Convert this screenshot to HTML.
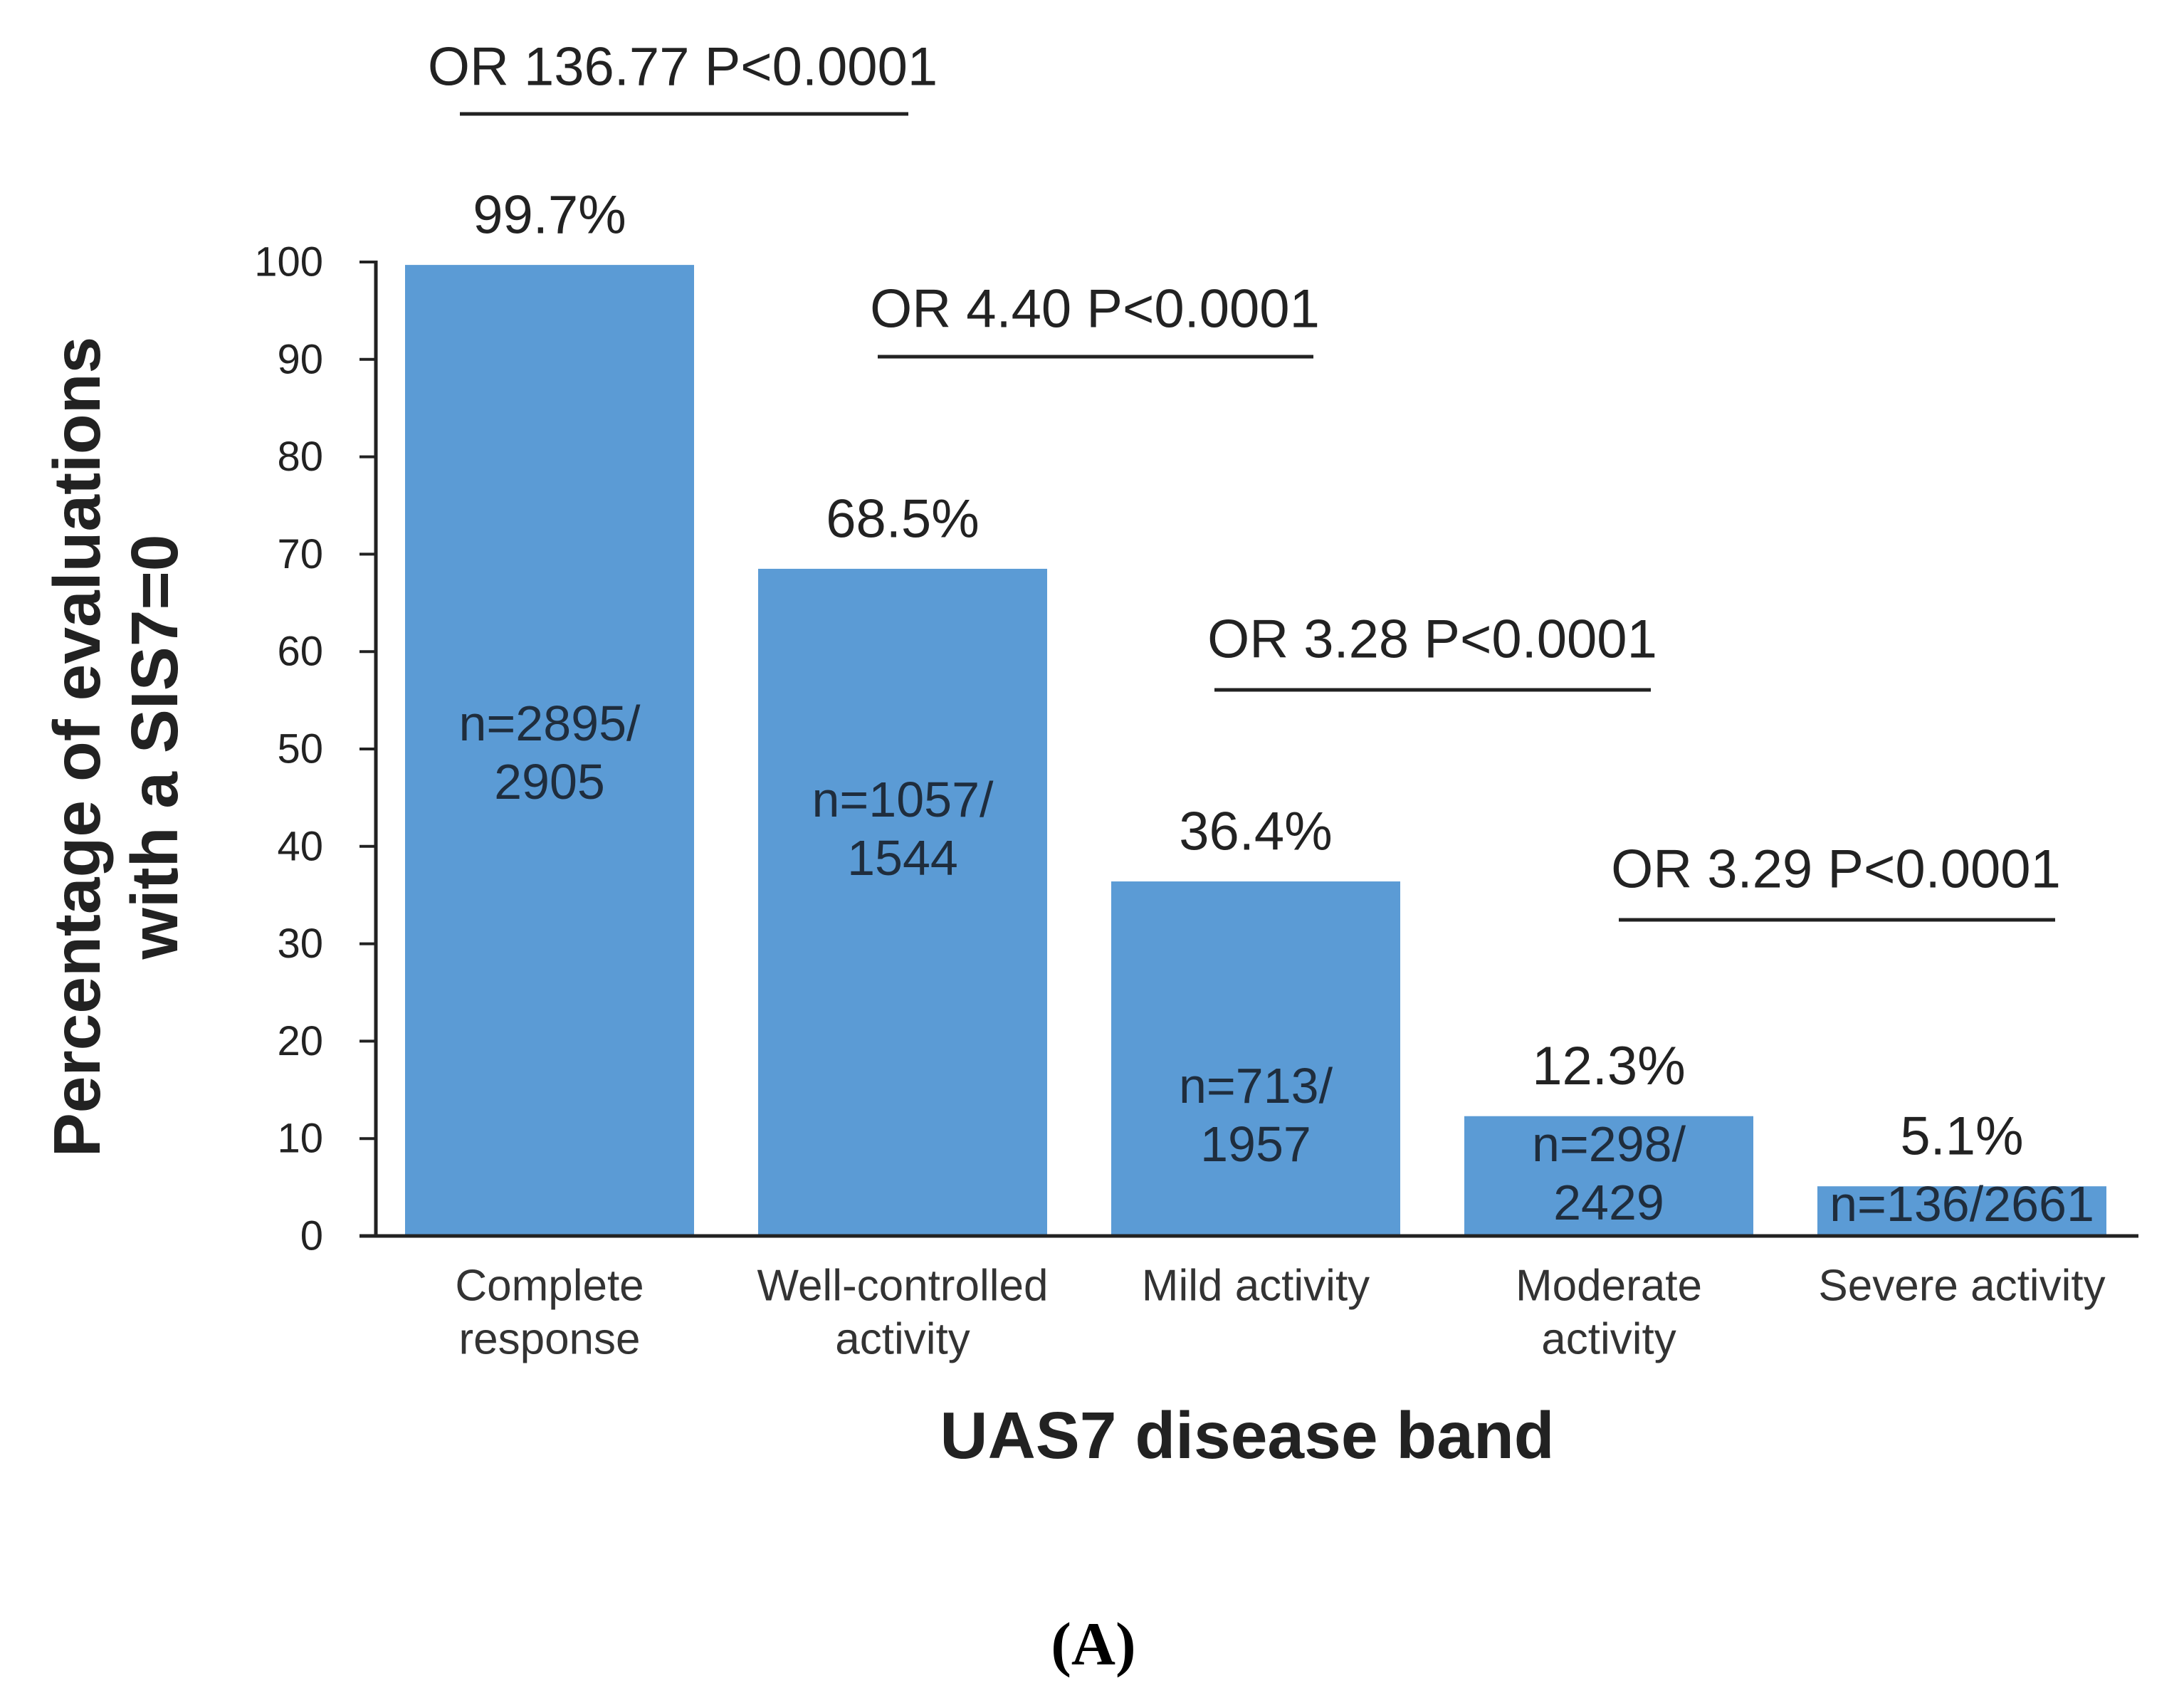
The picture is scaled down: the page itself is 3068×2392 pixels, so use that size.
<!DOCTYPE html>
<html><head><meta charset="utf-8"><style>
html,body{margin:0;padding:0;background:#fff;}
svg{display:block;font-family:"Liberation Sans",Arial,sans-serif;}
</style></head><body>
<svg id="chart" width="3068" height="2392" viewBox="0 0 3068 2392" xmlns="http://www.w3.org/2000/svg">
<rect width="3068" height="2392" fill="#fff"/>
<g id="plot"></g>
<text x="108" y="1049" transform="rotate(-90 108 1049)" text-anchor="middle" dominant-baseline="central" font-size="93" font-weight="bold" fill="#222">Percentage of evaluations</text>
<text x="217" y="1049" transform="rotate(-90 217 1049)" text-anchor="middle" dominant-baseline="central" font-size="93" font-weight="bold" fill="#222">with a SIS7=0</text>
<text x="1752" y="2016" text-anchor="middle" dominant-baseline="central" font-size="93" font-weight="bold" fill="#222">UAS7 disease band</text>
<text x="1536" y="2309" text-anchor="middle" dominant-baseline="central" font-size="86" font-weight="bold" fill="#000" font-family="'Liberation Serif',serif">(A)</text>
</svg>
<script>
const categories = [["Complete","response"],["Well-controlled","activity"],["Mild activity"],["Moderate","activity"],["Severe activity"]];
const values = [99.7, 68.5, 36.4, 12.3, 5.1];
const valueLabels = ["99.7%","68.5%","36.4%","12.3%","5.1%"];
const countLabels = [["n=2895/","2905"],["n=1057/","1544"],["n=713/","1957"],["n=298/","2429"],["n=136/2661"]];
const countLabelY = [1016, 1123, 1525, 1607, 1691];
const yTicks = [0,10,20,30,40,50,60,70,80,90,100];
const bracketTexts = ["OR 136.77 P<0.0001","OR 4.40 P<0.0001","OR 3.28 P<0.0001","OR 3.29 P<0.0001"];
const bracketLineY = [160, 501, 969, 1292];
const bracketX1 = [646, 1233, 1706, 2274];
const bracketX2 = [1276, 1845, 2319, 2887];
const bracketTextX = [959, 1538, 2012, 2579];
const bracketTextY = [94, 434, 898, 1221];

const NS="http://www.w3.org/2000/svg";
const g=document.getElementById('plot');
const axisX=528, y0=1736, y100=368, firstCenter=772, band=496, barW=406;
const yScale=v=>y0-(y0-y100)*v/100;
const xCenter=i=>firstCenter+band*i;
function mk(tag,attrs,txt){const e=document.createElementNS(NS,tag);for(const k in attrs)e.setAttribute(k,attrs[k]);if(txt!==undefined)e.textContent=txt;g.appendChild(e);return e;}

values.forEach((v,i)=>{
  const cx=xCenter(i);
  const r=mk('rect',{x:cx-barW/2,y:yScale(v),width:barW,height:y0-yScale(v),fill:'#5b9bd5'});
  
  
  const t=mk('text',{x:cx,y:yScale(v)-70,'text-anchor':'middle','dominant-baseline':'central','font-size':76,fill:'#222'},valueLabels[i]);
  
  
  countLabels[i].forEach((s,j)=>{
    const c=mk('text',{x:cx,y:countLabelY[i]+j*82,'text-anchor':'middle','dominant-baseline':'central','font-size':70,fill:'#1f2d3d'},s);
    
    
  });
  categories[i].forEach((s,j)=>{
    const c=mk('text',{x:cx,y:1806+j*75,'text-anchor':'middle','dominant-baseline':'central','font-size':62,fill:'#333'},s);
    
    
  });
});
yTicks.forEach(v=>{
  const l=mk('line',{x1:axisX-23,x2:axisX,y1:yScale(v),y2:yScale(v),stroke:'#222','stroke-width':4});
  
  
  const t=mk('text',{x:454,y:yScale(v),'text-anchor':'end','dominant-baseline':'central','font-size':58,fill:'#222'},v);
  
  
});
const ya=mk('line',{x1:axisX,x2:axisX,y1:y100-2,y2:y0+2,stroke:'#222','stroke-width':5});


const xa=mk('line',{x1:axisX-23,x2:3004,y1:y0,y2:y0,stroke:'#222','stroke-width':5});


bracketTexts.forEach((txt,k)=>{
  const l=mk('line',{x1:bracketX1[k],x2:bracketX2[k],y1:bracketLineY[k],y2:bracketLineY[k],stroke:'#222','stroke-width':5});
  
  
  const t=mk('text',{x:bracketTextX[k],y:bracketTextY[k],'text-anchor':'middle','dominant-baseline':'central','font-size':76,fill:'#222'},txt);
  
  
});
</script>
</body></html>
